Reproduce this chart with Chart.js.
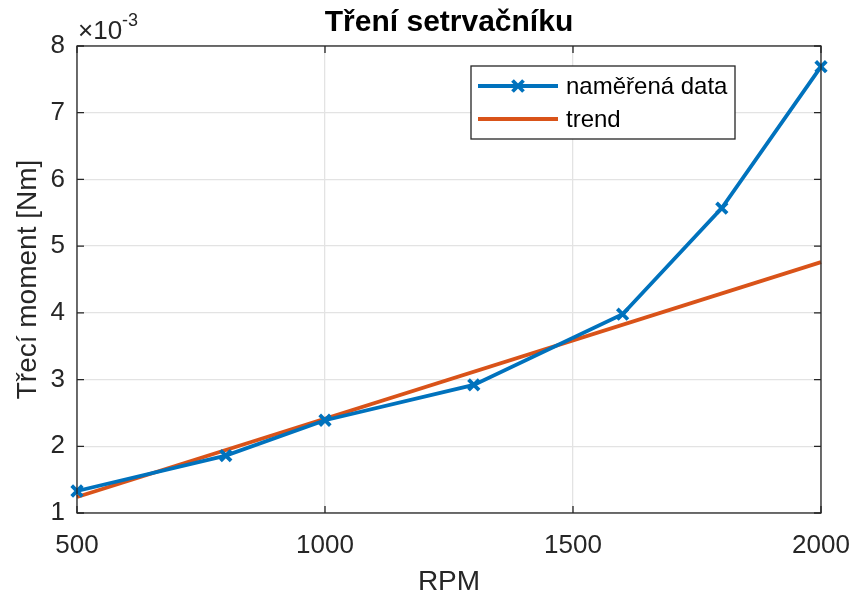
<!DOCTYPE html>
<html>
<head>
<meta charset="utf-8">
<script src="https://cdn.jsdelivr.net/npm/chart.js@4/dist/chart.umd.min.js"></script>
<style>
    html, body { margin: 0; padding: 0; background: #fff; }
    #wrap { width: 851px; height: 596px; }
</style>
</head>
<body>
<div id="wrap"><canvas id="treni"></canvas></div>
<script>
"use strict";

// measured data (moment in units of 1e-3 Nm)
var rpm = [500, 800, 1000, 1300, 1600, 1800, 2000];
var moment = [1.33, 1.86, 2.39, 2.92, 3.98, 5.57, 7.69];

// linear trend
var trendRpm = [500, 2000];
var trendMoment = [1.24, 4.76];

var xTicks = [500, 1000, 1500, 2000];
var yTicks = [1, 2, 3, 4, 5, 6, 7, 8];

var FONT = "'Liberation Sans', Arial, Helvetica, sans-serif";
var AXIS = "#262626";

function toPoints(xs, ys) {
    var out = [];
    for (var i = 0; i < xs.length; i++) out.push({ x: xs[i], y: ys[i] });
    return out;
}

// box around axes + inward ticks + exponent label (MATLAB look)
var matlabBox = {
    id: "matlabBox",
    afterDatasetsDraw: function(chart) {
        var ctx = chart.ctx, a = chart.chartArea;
        var xs = chart.scales.x, ys = chart.scales.y;
        var len = 7;
        ctx.save();
        ctx.strokeStyle = AXIS;
        ctx.lineWidth = 1.3;
        ctx.beginPath();
        xTicks.forEach(function(v) {
            var px = xs.getPixelForValue(v);
            ctx.moveTo(px, a.bottom); ctx.lineTo(px, a.bottom - len);
            ctx.moveTo(px, a.top); ctx.lineTo(px, a.top + len);
        });
        yTicks.forEach(function(v) {
            var py = ys.getPixelForValue(v);
            ctx.moveTo(a.left, py); ctx.lineTo(a.left + len, py);
            ctx.moveTo(a.right, py); ctx.lineTo(a.right - len, py);
        });
        ctx.stroke();
        ctx.strokeRect(a.left, a.top, a.right - a.left, a.bottom - a.top);

        // x10^-3
        ctx.fillStyle = AXIS;
        ctx.textBaseline = "alphabetic";
        ctx.textAlign = "left";
        ctx.font = "26px " + FONT;
        ctx.fillText("\u00d710", a.left + 1, a.top - 7);
        var w = ctx.measureText("\u00d710").width;
        ctx.font = "18px " + FONT;
        ctx.fillText("-3", a.left + 1 + w, a.top - 20);
        ctx.restore();
    },
    afterDraw: function(chart) {
        // legend in the upper right of the axes
        var ctx = chart.ctx;
        var ds = chart.data.datasets;
        var bx = 471, by = 66, bw = 264, bh = 73;
        ctx.save();
        ctx.fillStyle = "#fff";
        ctx.fillRect(bx, by, bw, bh);
        ctx.strokeStyle = AXIS;
        ctx.lineWidth = 1.3;
        ctx.strokeRect(bx, by, bw, bh);
        ctx.font = "24px " + FONT;
        ctx.textBaseline = "middle";
        ctx.textAlign = "left";
        for (var i = 0; i < ds.length; i++) {
            var yy = by + 20 + i * 33;
            ctx.strokeStyle = ds[i].borderColor;
            ctx.lineWidth = ds[i].borderWidth;
            ctx.beginPath();
            ctx.moveTo(bx + 7, yy);
            ctx.lineTo(bx + 87, yy);
            ctx.stroke();
            if (ds[i].pointRadius > 0) {
                var cx = bx + 47, r = 5.5;
                ctx.lineWidth = ds[i].pointBorderWidth;
                ctx.beginPath();
                ctx.moveTo(cx - r, yy - r); ctx.lineTo(cx + r, yy + r);
                ctx.moveTo(cx + r, yy - r); ctx.lineTo(cx - r, yy + r);
                ctx.stroke();
            }
            ctx.fillStyle = "#000";
            ctx.fillText(ds[i].label, bx + 95, yy + 1);
        }
        ctx.restore();
    }
};

var chart = new Chart(document.getElementById("treni").getContext("2d"), {
    type: "line",
    data: {
        datasets: [{
            label: "naměřená data",
            data: toPoints(rpm, moment),
            borderColor: "#0072BD",
            backgroundColor: "#0072BD",
            borderWidth: 3.8,
            pointStyle: "crossRot",
            pointRadius: 7.5,
            pointBorderWidth: 3.8,
            pointBorderColor: "#0072BD",
            tension: 0,
            clip: false
        }, {
            label: "trend",
            data: toPoints(trendRpm, trendMoment),
            borderColor: "#D95319",
            backgroundColor: "#D95319",
            borderWidth: 3.8,
            pointRadius: 0,
            tension: 0,
            clip: false
        }]
    },
    options: {
        responsive: true,
        maintainAspectRatio: false,
        animation: false,
        layout: { padding: { left: 0, right: 30, top: 0, bottom: 0 } },
        plugins: {
            legend: { display: false },
            tooltip: { enabled: false },
            title: {
                display: true,
                fullSize: false,
                text: "Tření setrvačníku",
                color: "#000",
                font: { family: FONT, size: 30, weight: "bold" },
                padding: { top: 5, bottom: 5 }
            }
        },
        scales: {
            x: {
                type: "linear",
                min: 500,
                max: 2000,
                afterBuildTicks: function(scale) {
                    scale.ticks = xTicks.map(function(v) { return { value: v }; });
                },
                afterFit: function(scale) {
                    scale.height = 83;
                    scale.paddingLeft = 0;
                    scale.paddingRight = 0;
                },
                grid: { color: "#e3e3e3", lineWidth: 1.3, drawTicks: false },
                border: { display: false },
                ticks: {
                    color: AXIS, padding: 17, maxRotation: 0,
                    font: { family: FONT, size: 26 },
                    callback: function(v) { return String(v); }
                },
                title: {
                    display: true,
                    text: "RPM",
                    color: AXIS,
                    font: { family: FONT, size: 28, lineHeight: 1 },
                    padding: { top: 0, bottom: 0 }
                }
            },
            y: {
                min: 1,
                max: 8,
                afterBuildTicks: function(scale) {
                    scale.ticks = yTicks.map(function(v) { return { value: v }; });
                },
                afterFit: function(scale) {
                    scale.width = 77;
                    scale.paddingTop = 0;
                    scale.paddingBottom = 0;
                },
                grid: { color: "#e3e3e3", lineWidth: 1.3, drawTicks: false },
                border: { display: false },
                ticks: {
                    color: AXIS, padding: 12,
                    font: { family: FONT, size: 26 },
                    callback: function(v) { return String(v); }
                },
                title: {
                    display: true,
                    text: "Třecí moment [Nm]",
                    color: AXIS,
                    font: { family: FONT, size: 28 },
                    padding: { top: 11, bottom: 0 }
                }
            }
        }
    },
    plugins: [matlabBox]
});
</script>
</body>
</html>
